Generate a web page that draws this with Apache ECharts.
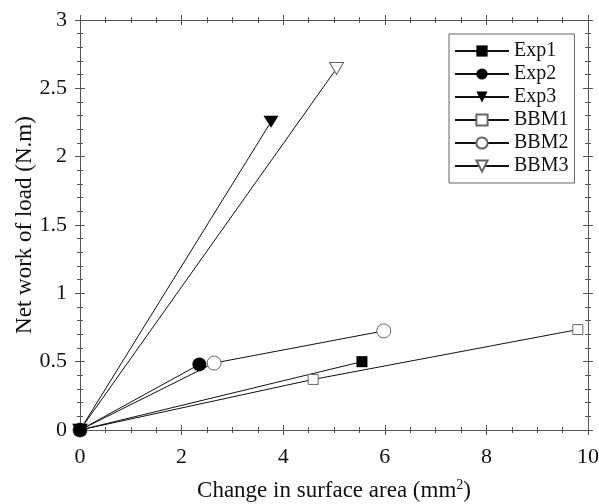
<!DOCTYPE html>
<html>
<head>
<meta charset="utf-8">
<script src="https://cdn.jsdelivr.net/npm/echarts@6/dist/echarts.min.js"></script>
<style>
  html, body { margin: 0; padding: 0; background: #fff; }
  #chart { width: 599px; height: 504px; }
</style>
</head>
<body>
<div id="chart"></div>
<script>
// Measured points: [change in surface area (mm^2), net work of load (N.m)]
const exp1 = [[0, 0], [5.55, 0.50]];
const exp2 = [[0, 0], [2.35, 0.48]];
const exp3 = [[0, 0], [3.76, 2.255]];
const bbm1 = [[0, 0], [4.59, 0.37], [9.80, 0.735]];
const bbm2 = [[0, 0], [2.64, 0.49], [5.98, 0.725]];
const bbm3 = [[0, 0], [5.05, 2.645]];

const seriesNames = ['Exp1', 'Exp2', 'Exp3', 'BBM1', 'BBM2', 'BBM3'];
const xTitle = 'Change in surface area (mm{sup|2})';
const yTitle = 'Net work of load (N.m)';

const FONT = '"Liberation Serif", "DejaVu Serif", serif';
const AXIS_COLOR = '#555';

// One axis per side draws the outward ticks, a twin draws the inward ones,
// so every tick crosses the frame line.
function xAxisDef(position, inside, showLabels) {
  return {
    type: 'value', position, min: 0, max: 10, interval: 2,
    axisLine: { show: true, onZero: false, lineStyle: { color: AXIS_COLOR, width: 1 } },
    axisTick: { show: true, inside, length: 5, lineStyle: { color: AXIS_COLOR } },
    minorTick: { show: true, splitNumber: 4, length: 3, lineStyle: { color: AXIS_COLOR } },
    axisLabel: { show: showLabels, fontFamily: FONT, fontSize: 22, color: '#111', margin: 16 },
    splitLine: { show: false }
  };
}
function yAxisDef(position, inside, showLabels) {
  return {
    type: 'value', position, min: 0, max: 3, interval: 0.5,
    axisLine: { show: true, onZero: false, lineStyle: { color: AXIS_COLOR, width: 1 } },
    axisTick: { show: true, inside, length: 5, lineStyle: { color: AXIS_COLOR } },
    minorTick: { show: true, splitNumber: 5, length: 3, lineStyle: { color: AXIS_COLOR } },
    axisLabel: { show: showLabels, fontFamily: FONT, fontSize: 22, color: '#111', margin: 13 },
    splitLine: { show: false }
  };
}

const xMain = xAxisDef('bottom', false, true);
xMain.name = xTitle;
xMain.nameLocation = 'middle';
xMain.nameGap = 48;
xMain.nameTextStyle = {
  fontFamily: FONT, fontSize: 23, color: '#111',
  rich: { sup: { fontFamily: FONT, fontSize: 14, color: '#111', verticalAlign: 'top', padding: [0, 0, 12, 0] } }
};

const yMain = yAxisDef('left', false, true);
yMain.name = yTitle;
yMain.nameLocation = 'middle';
yMain.nameGap = 44;
yMain.nameMoveOverlap = false;
yMain.nameTextStyle = { fontFamily: FONT, fontSize: 23, color: '#111' };

const filled = { color: '#000', borderColor: '#000', borderWidth: 0 };
const hollow = { color: '#fff', borderColor: '#666', borderWidth: 1 };
const lineBlack = { color: '#111', width: 1 };

function lineSeries(name, data, symbol, size, itemStyle, rotate) {
  return {
    name, type: 'line', data,
    xAxisIndex: 0, yAxisIndex: 0,
    symbol, symbolSize: size, symbolRotate: rotate || 0,
    showAllSymbol: true,
    lineStyle: lineBlack,
    itemStyle,
    emphasis: { disabled: true },
    animation: false
  };
}

const chart = echarts.init(document.getElementById('chart'), null, { renderer: 'canvas' });
chart.setOption({
  backgroundColor: '#fff',
  animation: false,
  grid: { left: 80, right: 11, top: 20, bottom: 74, containLabel: false, outerBoundsMode: 'none' },
  legend: {
    data: seriesNames,
    orient: 'vertical',
    left: 449, top: 34,
    padding: [7, 6, 7, 5],
    itemWidth: 54, itemHeight: 14, itemGap: 3,
    borderColor: '#666', borderWidth: 1,
    backgroundColor: '#fff',
    textStyle: { fontFamily: FONT, fontSize: 20, color: '#111', lineHeight: 19 },
    selectedMode: false
  },
  xAxis: [
    xMain,
    xAxisDef('bottom', true, false),
    xAxisDef('top', true, false),
    xAxisDef('top', false, false)
  ],
  yAxis: [
    yMain,
    yAxisDef('left', true, false),
    yAxisDef('right', true, false),
    yAxisDef('right', false, false)
  ],
  series: [
    lineSeries('BBM1', bbm1, 'rect', 10, hollow),
    lineSeries('BBM2', bbm2, 'circle', 14, hollow),
    lineSeries('BBM3', bbm3, 'triangle', [14, 12], hollow, 180),
    lineSeries('Exp1', exp1, 'rect', 11, filled),
    lineSeries('Exp2', exp2, 'circle', 14, filled),
    lineSeries('Exp3', exp3, 'triangle', [15, 12], filled, 180)
  ]
});
</script>
</body>
</html>
